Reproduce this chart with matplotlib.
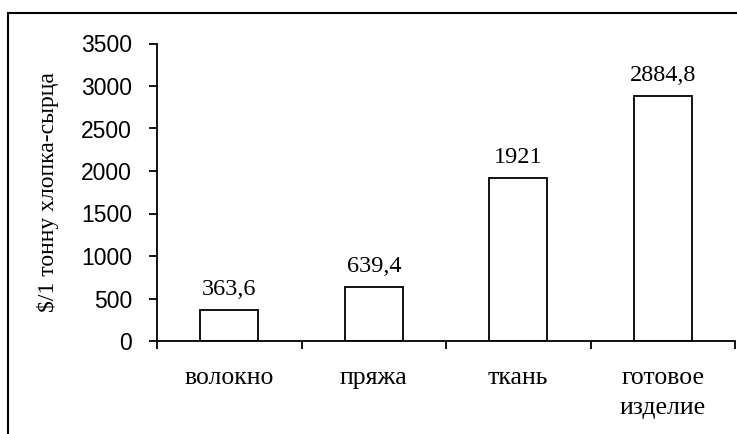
import matplotlib.pyplot as plt
from matplotlib.lines import Line2D

categories = ["волокно", "пряжа", "ткань", "готовое\nизделие"]
values = [363.6, 639.4, 1921, 2884.8]
value_labels = ["363,6", "639,4", "1921", "2884,8"]
y_ticks = [0, 500, 1000, 1500, 2000, 2500, 3000, 3500]

serif = "Liberation Serif"
sans = "Liberation Sans"

fig = plt.figure(figsize=(7.37, 4.34), dpi=100)
ax = fig.add_axes([157 / 737, 1 - 341 / 434, (735 - 157) / 737, (341 - 43.5) / 434])

x = list(range(len(categories)))
ax.bar(x, values, width=0.4, color="white", edgecolor="black", linewidth=1.3)

for xi, v, lab in zip(x, values, value_labels):
    ax.annotate(lab, (xi, v), xytext=(0, 10.8), textcoords="offset points",
                ha="center", va="baseline", fontsize=17.5, family=serif)

ax.set_xlim(-0.5, len(categories) - 0.5)
ax.set_ylim(0, 3500)
ax.set_yticks(y_ticks)
ax.set_yticklabels([str(t) for t in y_ticks], family=sans, fontsize=16.5)

# деления между категориями, подписи по центрам
ax.set_xticks([i - 0.5 for i in range(len(categories) + 1)])
ax.set_xticklabels([])
ax.set_xticks(x, minor=True)
ax.set_xticklabels(categories, minor=True, family=serif, fontsize=18.5, linespacing=1.45)
ax.tick_params(axis="x", which="minor", length=0, pad=19)
ax.tick_params(axis="x", which="major", length=6, width=1.3, direction="out")
ax.tick_params(axis="y", length=6, width=1.3, direction="out", pad=12)

ax.spines["top"].set_visible(False)
ax.spines["right"].set_visible(False)
ax.spines["left"].set_linewidth(1.3)
ax.spines["bottom"].set_linewidth(1.3)

ax.set_ylabel("$/1 тонну хлопка-сырца", family=serif, fontsize=17, labelpad=16)

# рамка области диаграммы
fig.add_artist(Line2D([8 / 737, 8 / 737], [0, 1 - 12.5 / 434], transform=fig.transFigure,
                      color="black", linewidth=1.5))
fig.add_artist(Line2D([8 / 737, 1], [1 - 12.5 / 434, 1 - 12.5 / 434], transform=fig.transFigure,
                      color="black", linewidth=1.5))

fig.savefig("out.png", dpi=100)
